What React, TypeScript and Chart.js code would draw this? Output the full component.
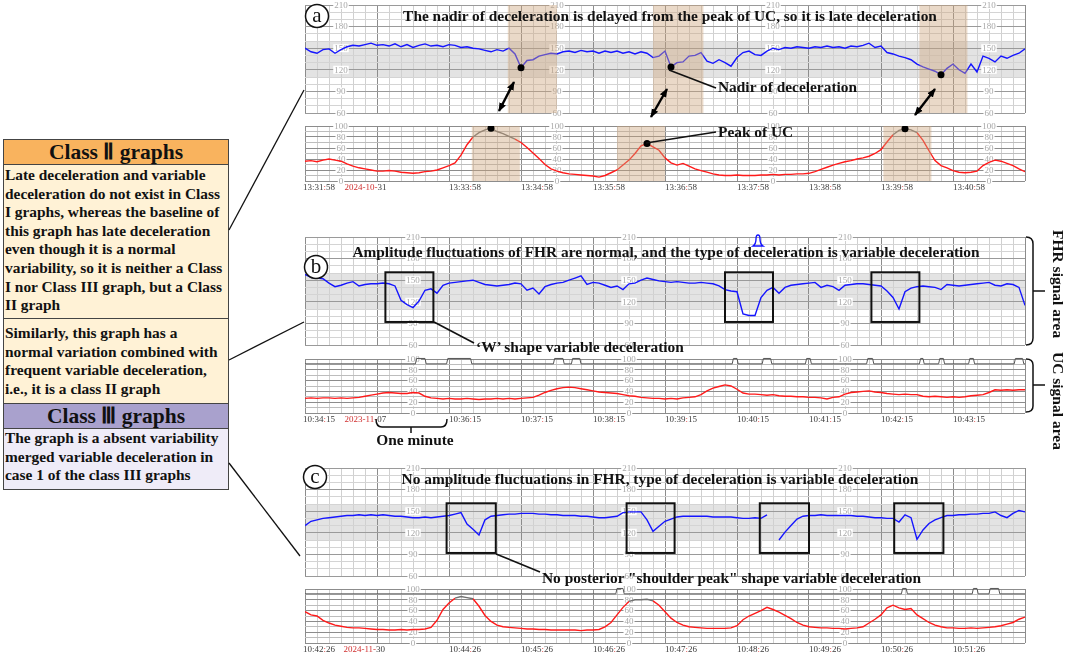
import React, { useEffect, useRef } from "react";
import { Chart, registerables } from "chart.js";
Chart.register(...registerables);

const STEP = 5; // seconds between samples

// ---------- Panel a (late deceleration) ----------
const fhrA = [150,145,143,148,149,143,148,152,154,153, 155,157,154,155,153,156,152,155,151,154, 156,153,154,152,155,154,151,152,150,149, 147,145,148,146,150,142,123,133,134,139, 141,143,142,145,146,144,147,145,146,143, 146,144,146,143,145,142,145,143,137,139, 146,124,130,131,139,140,144,132,129,134, 130,125,137,144,146,141,140,146,150,148, 151,150,152,151,150,152,151,153,151,152, 150,153,152,154,157,151,153,144,142,139, 137,134,128,124,121,118,113,122,128,120, 115,128,117,139,136,131,139,136,140,143, 149];
const ucA = [36,37,35,38,40,38,36,31,27,24, 22,20,18,18,19,18,16,15,14,15, 17,18,20,24,28,33,47,66,80,88, 93,96,90,86,81,76,70,61,51,41, 30,22,18,15,13,12,11,10,9,7, 10,15,20,29,38,50,64,68,62,56, 42,33,29,32,27,22,19,16,13,11, 10,10,11,10,10,10,11,11,12,11, 12,12,13,13,14,17,21,25,29,32, 35,37,40,42,45,50,57,71,84,92, 95,93,88,74,55,37,28,24,19,16, 15,16,18,28,34,38,36,32,28,22, 17];
const nadirTimesA = [180, 305, 530];
const nadirValuesA = [123, 124, 113];
const peakTimesA = [155, 285, 500];
const peakValuesA = [96, 68, 95];
const fhrShadeStartsA = [169, 290, 512];
const fhrShadeEndsA = [210, 332, 552];
const ucShadeStartsA = [139, 260, 482];
const ucShadeEndsA = [179, 300, 522];
const tickTimesA = [0, 120, 180, 240, 300, 360, 420, 480, 540];
const tickLabelsA = ["13:31:58","13:33:58","13:34:58","13:35:58","13:36:58","13:37:58","13:38:58","13:39:58","13:40:58"];
const dateA = "2024-10-31";
const valueLabelTimesA = [30, 210, 390, 570];

// ---------- Panel b (variable deceleration, normal variability) ----------
const fhrB = [158,154,153,152,146,141,143,146,148,142, 144,145,145,146,145,142,122,116,112,121, 136,138,132,143,146,147,148,149,150,147, 144,143,142,143,144,146,145,136,139,131, 141,144,146,147,150,153,156,144,147,146, 143,140,142,137,145,146,150,153,151,149, 148,147,148,147,146,146,147,146,145,142, 137,135,134,103,101,101,126,136,140,132, 140,143,144,145,146,147,140,143,141,136, 143,144,145,145,144,143,142,135,126,110, 134,139,141,142,141,140,137,144,143,142, 143,144,145,146,147,143,142,145,144,140, 115];
const ucB = [27,28,27,28,28,27,28,27,28,29, 31,33,35,37,38,37,36,36,38,37, 31,28,27,26,27,26,26,27,26,25, 26,26,27,26,27,26,27,28,29,33, 38,42,45,47,48,47,45,43,41,39, 38,37,36,34,32,31,29,28,27,27, 26,27,26,28,29,30,34,41,46,49, 52,50,44,37,35,35,34,33,34,32, 31,31,30,30,29,29,28,26,29,30, 35,38,39,40,41,39,38,36,35,34, 35,34,34,31,30,31,30,29,30,29, 30,32,33,34,38,43,42,43,42,43, 43];
const markerStartsB = [93, 119, 208, 223, 357, 382, 418, 469, 513, 529, 554, 592];
const markerEndsB = [100, 138, 215, 229, 360, 388, 421, 473, 515, 532, 557, 598];
const boxStartsB = [67, 350, 472];
const boxEndsB = [107, 390, 512];
const tickTimesB = [0, 120, 180, 240, 300, 360, 420, 480, 540];
const tickLabelsB = ["10:34:15","10:36:15","10:37:15","10:38:15","10:39:15","10:40:15","10:41:15","10:42:15","10:43:15"];
const dateB = "2023-11-07";
const valueLabelTimesBC = [90, 270, 450];

// ---------- Panel c (absent variability) ----------
const fhrC = [130,136,138,140,141,142,143,144,144,145, 144,145,144,145,144,143,143,142,141,141, 142,141,142,143,144,146,148,132,125,117, 138,143,144,145,146,146,147,147,147,146, 146,145,145,144,144,144,143,143,142,141, 141,142,143,148,149,149,149,138,122,129, 136,139,142,143,143,143,143,143,142,142, 142,142,141,140,140,141,140,145,null,110, 121,130,139,143,144,144,145,144,144,144, 144,144,143,143,142,141,141,140,140,135, 145,141,111,124,133,138,141,144,144,145, 145,146,146,147,147,149,144,141,147,151, 149];
const ucC = [58,52,50,42,37,33,31,29,28,28, 27,26,25,25,24,24,25,24,25,25, 26,29,42,62,74,83,86,84,82,68, 51,40,33,30,29,28,27,26,26,25, 25,24,24,24,24,24,23,24,24,25, 30,38,52,66,77,80,80,81,78,70, 58,46,38,33,30,29,28,27,27,27, 27,28,32,43,50,55,60,66,62,57, 51,45,38,33,30,29,28,28,27,27, 26,27,28,30,37,44,52,65,70,65, 62,64,52,45,38,33,30,28,28,27, 27,28,27,28,29,30,32,35,38,44, 48];
const markerStartsC = [260, 498, 557, 571];
const markerEndsC = [265, 501, 560, 578];
const boxStartsC = [118, 268, 379, 491];
const boxEndsC = [159, 308, 420, 532];
const tickTimesC = [0, 120, 180, 240, 300, 360, 420, 480, 540];
const tickLabelsC = ["10:42:26","10:44:26","10:45:26","10:46:26","10:47:26","10:48:26","10:49:26","10:50:26","10:51:26"];
const dateC = "2024-11-30";

const fhrTickValues = [210, 180, 150, 120, 90, 60];
const ucTickValues = [100, 80, 60, 40, 20, 0];
const normalBand = [110, 160];
const boxRange = [92, 161];

// ---------- layout ----------
const SERIF = '"Liberation Serif","Times New Roman",serif';
const AREA_L = 305;
const AREA_W = 720;
const PAD = 4;
const TITLE_SIZE = 15.4;

type Cfg = {
  band?: number[];
  valueLabels: number[];
  labelTimes: number[];
  shades?: number[][];
  boxes?: number[][];
  ticks?: { times: number[]; labels: string[]; date: string; dateTime: number };
};

const toXY = (arr: (number | null)[]) => arr.map((v, i) => ({ x: i * STEP, y: v }));
const zipXY = (xs: number[], ys: number[]) => xs.map((x, i) => ({ x, y: ys[i] }));
const pairs = (a: number[], b: number[]) => a.map((s, i) => [s, b[i]]);
function markerTrace(starts: number[], ends: number[]) {
  const pts: { x: number; y: number }[] = [{ x: 0, y: 91 }];
  starts.forEach((s, i) => {
    pts.push({ x: s - 1, y: 91 }, { x: s, y: 101 }, { x: ends[i], y: 101 }, { x: ends[i] + 1, y: 91 });
  });
  pts.push({ x: 600, y: 91 });
  return pts;
}

function makePlugin(cfg: Cfg) {
  return {
    id: "ctg",
    beforeDraw(chart: any) {
      if (!cfg.band) return;
      const { ctx, chartArea: a, scales } = chart;
      const y1 = scales.y.getPixelForValue(cfg.band[1]);
      const y0 = scales.y.getPixelForValue(cfg.band[0]);
      ctx.save();
      ctx.fillStyle = "rgba(200,200,200,0.5)";
      ctx.fillRect(a.left, y1, a.right - a.left, y0 - y1);
      ctx.restore();
    },
    beforeDatasetsDraw(chart: any) {
      const { ctx, scales } = chart;
      ctx.save();
      ctx.font = `9px ${SERIF}`;
      ctx.textAlign = "center";
      ctx.textBaseline = "middle";
      cfg.labelTimes.forEach((t) => {
        const x = scales.x.getPixelForValue(t);
        cfg.valueLabels.forEach((v) => {
          const y = scales.y.getPixelForValue(v);
          const txt = String(v);
          const w = ctx.measureText(txt).width;
          ctx.fillStyle = "#fff";
          ctx.fillRect(x - w / 2 - 1, y - 4, w + 2, 8);
          ctx.fillStyle = "#a8a8a8";
          ctx.fillText(txt, x, y + 0.5);
        });
      });
      ctx.restore();
    },
    afterDatasetDraw(chart: any, args: any) {
      if (args.index !== 1) return;
      const { ctx, chartArea: a, scales } = chart;
      ctx.save();
      (cfg.shades || []).forEach(([s, e]) => {
        const x0 = scales.x.getPixelForValue(s);
        const x1 = scales.x.getPixelForValue(e);
        ctx.fillStyle = "rgba(205,165,125,0.42)";
        ctx.fillRect(x0, a.top, x1 - x0, a.bottom - a.top);
      });
      (cfg.boxes || []).forEach(([s, e, v0, v1]) => {
        const x0 = scales.x.getPixelForValue(s);
        const x1 = scales.x.getPixelForValue(e);
        const y0 = scales.y.getPixelForValue(v1);
        const y1 = scales.y.getPixelForValue(v0);
        ctx.strokeStyle = "#111";
        ctx.lineWidth = 2;
        ctx.strokeRect(x0, y0, x1 - x0, y1 - y0);
      });
      ctx.restore();
    },
    afterDraw(chart: any) {
      if (!cfg.ticks) return;
      const { ctx, chartArea: a, scales } = chart;
      const tk = cfg.ticks;
      const y = a.bottom + 7;
      ctx.save();
      ctx.font = `9px ${SERIF}`;
      ctx.textAlign = "left";
      ctx.textBaseline = "middle";
      tk.times.forEach((t, i) => {
        let x = scales.x.getPixelForValue(t);
        if (i === 0) x -= 2;
        const lab = tk.labels[i];
        const k = lab.lastIndexOf(":");
        const parts: [string, string][] = [
          [lab.slice(0, k), "#3a3a3a"],
          [":", "#e02020"],
          [lab.slice(k + 1), "#3a3a3a"],
        ];
        parts.forEach(([s, c]) => {
          ctx.fillStyle = c;
          ctx.fillText(s, x, y);
          x += ctx.measureText(s).width;
        });
      });
      let x = scales.x.getPixelForValue(tk.dateTime);
      const d1 = tk.date.slice(0, 8);
      const d2 = tk.date.slice(8);
      ctx.fillStyle = "#d03030";
      ctx.fillText(d1, x, y);
      x += ctx.measureText(d1).width;
      ctx.fillStyle = "#3a3a3a";
      ctx.fillText(d2, x, y);
      ctx.restore();
    },
  };
}

type ChartProps = {
  top: number;
  areaH: number;
  padB: number;
  kind: "fhr" | "uc";
  cfg: Cfg;
  datasets: any[];
};

function CtgChart(p: ChartProps) {
  const ref = useRef<HTMLCanvasElement>(null);
  useEffect(() => {
    const isF = p.kind === "fhr";
    const chart = new Chart(ref.current as HTMLCanvasElement, {
      type: "line",
      data: { datasets: p.datasets },
      options: {
        animation: false,
        responsive: false,
        maintainAspectRatio: false,
        devicePixelRatio: 1,
        layout: { padding: { left: PAD, right: PAD, top: PAD, bottom: p.padB } },
        plugins: { legend: { display: false }, tooltip: { enabled: false } },
        elements: { point: { radius: 0 }, line: { tension: 0 } },
        scales: {
          x: {
            type: "linear",
            min: 0,
            max: 600,
            ticks: { display: false, stepSize: 10, autoSkip: false },
            grid: {
              drawTicks: false,
              lineWidth: 1,
              color: (c: any) => (c.tick && c.tick.value % 60 === 0 ? "#8c8c8c" : "#d0d0d0"),
            },
            border: { display: false },
          },
          y: {
            min: isF ? 60 : 0,
            max: isF ? 210 : 100,
            ticks: { display: false, stepSize: 10, autoSkip: false },
            grid: {
              drawTicks: false,
              lineWidth: 1,
              color: (c: any) => {
                const v = c.tick ? c.tick.value : 0;
                if (isF) return v % 30 === 0 ? "#9a9a9a" : "#d4d4d4";
                return v % 20 === 0 ? "#8c8c8c" : "#bdbdbd";
              },
            },
            border: { display: false },
          },
        },
      } as any,
      plugins: [makePlugin(p.cfg)],
    });
    return () => chart.destroy();
  }, []);
  const w = AREA_W + 2 * PAD;
  const h = p.areaH + PAD + p.padB;
  return (
    <canvas
      ref={ref}
      width={w}
      height={h}
      style={{ position: "absolute", left: AREA_L - PAD, top: p.top - PAD, width: w, height: h }}
    />
  );
}

const dotsDs = (pts: { x: number; y: number }[]) => ({
  data: pts,
  showLine: false,
  pointRadius: pts.length ? 3.5 : 0,
  pointBackgroundColor: "#000",
  pointBorderWidth: 0,
  borderColor: "#000",
});
const fhrDs = (arr: (number | null)[]) => ({
  data: toXY(arr),
  borderColor: "#1515ff",
  borderWidth: 1.4,
  pointRadius: 0,
  spanGaps: false,
});
const ucDs = (arr: number[]) => ({
  data: toXY(arr),
  borderColor: "#ff1a1a",
  borderWidth: 1.4,
  pointRadius: 0,
  segment: {
    borderColor: (c: any) => (c.p0.parsed.y >= 76 && c.p1.parsed.y >= 76 ? "#707070" : "#ff1a1a"),
  },
});
const markerDs = (s: number[], e: number[]) => ({
  data: markerTrace(s, e),
  borderColor: "#555",
  borderWidth: 1,
  pointRadius: 0,
  clip: false,
});

const textBase: React.CSSProperties = {
  position: "absolute",
  fontFamily: SERIF,
  fontWeight: "bold",
  color: "#111",
  whiteSpace: "nowrap",
  lineHeight: "20px",
};

function Label(props: { x: number; y: number; size: number; center?: boolean; children: React.ReactNode }) {
  return (
    <div
      style={{
        ...textBase,
        left: props.x,
        top: props.y - 10,
        fontSize: props.size,
        transform: props.center ? "translateX(-50%)" : undefined,
      }}
    >
      {props.children}
    </div>
  );
}

const classIIText1 = [
  "Late deceleration and variable",
  "deceleration do not exist in Class",
  "I graphs, whereas the baseline of",
  "this graph has late deceleration",
  "even though it is a normal",
  "variability, so it is neither a Class",
  "I nor Class III graph, but a Class",
  "II graph",
];
const classIIText2 = [
  "Similarly, this graph has a",
  "normal variation combined with",
  "frequent variable deceleration,",
  "i.e., it is a class II graph",
];
const classIIIText = [
  "The graph is a absent variability",
  "merged variable deceleration in",
  "case 1 of the class III graphs",
];

function Box(props: { top: number; h: number; bg: string; children: React.ReactNode; padTop?: number; header?: boolean }) {
  return (
    <div
      style={{
        position: "absolute",
        left: 3,
        top: props.top,
        width: 226,
        height: props.h,
        boxSizing: "border-box",
        background: props.bg,
        border: "1px solid #444",
        fontFamily: SERIF,
        fontWeight: "bold",
        color: "#111",
        paddingTop: props.padTop ?? 0,
        paddingLeft: props.header ? 0 : 1,
        textAlign: props.header ? "center" : "left",
        whiteSpace: "nowrap",
        overflow: "hidden",
      }}
    >
      {props.children}
    </div>
  );
}

export default function App() {
  const cfgFA: Cfg = {
    band: normalBand,
    valueLabels: fhrTickValues,
    labelTimes: valueLabelTimesA,
    shades: pairs(fhrShadeStartsA, fhrShadeEndsA),
  };
  const cfgUA: Cfg = {
    valueLabels: ucTickValues,
    labelTimes: valueLabelTimesA,
    shades: pairs(ucShadeStartsA, ucShadeEndsA),
    ticks: { times: tickTimesA, labels: tickLabelsA, date: dateA, dateTime: 33 },
  };
  const cfgFB: Cfg = {
    band: normalBand,
    valueLabels: fhrTickValues,
    labelTimes: valueLabelTimesBC,
    boxes: boxStartsB.map((s, i) => [s, boxEndsB[i], boxRange[0], boxRange[1]]),
  };
  const cfgUB: Cfg = {
    valueLabels: ucTickValues,
    labelTimes: valueLabelTimesBC,
    ticks: { times: tickTimesB, labels: tickLabelsB, date: dateB, dateTime: 33 },
  };
  const cfgFC: Cfg = {
    band: normalBand,
    valueLabels: fhrTickValues,
    labelTimes: valueLabelTimesBC,
    boxes: boxStartsC.map((s, i) => [s, boxEndsC[i], boxRange[0], boxRange[1]]),
  };
  const cfgUC: Cfg = {
    valueLabels: ucTickValues,
    labelTimes: valueLabelTimesBC,
    ticks: { times: tickTimesC, labels: tickLabelsC, date: dateC, dateTime: 32 },
  };

  const lineH = 18.6;
  const bodySize = 15.4;

  return (
    <div style={{ position: "absolute", left: 0, top: 0, width: 1065, height: 655, background: "#fff", overflow: "hidden" }}>
      <CtgChart top={5} areaH={108} padB={PAD} kind="fhr" cfg={cfgFA}
        datasets={[dotsDs(zipXY(nadirTimesA, nadirValuesA)), fhrDs(fhrA)]} />
      <CtgChart top={126} areaH={55} padB={16} kind="uc" cfg={cfgUA}
        datasets={[dotsDs(zipXY(peakTimesA, peakValuesA)), ucDs(ucA)]} />
      <CtgChart top={237} areaH={108} padB={PAD} kind="fhr" cfg={cfgFB}
        datasets={[dotsDs([]), fhrDs(fhrB)]} />
      <CtgChart top={359} areaH={54} padB={16} kind="uc" cfg={cfgUB}
        datasets={[markerDs(markerStartsB, markerEndsB), ucDs(ucB)]} />
      <CtgChart top={468} areaH={108} padB={PAD} kind="fhr" cfg={cfgFC}
        datasets={[dotsDs([]), fhrDs(fhrC)]} />
      <CtgChart top={589} areaH={54} padB={16} kind="uc" cfg={cfgUC}
        datasets={[markerDs(markerStartsC, markerEndsC), ucDs(ucC)]} />

      {/* left explanation boxes */}
      <Box top={139} h={26} bg="#F9B35E" header>
        <span style={{ fontSize: 21.5, lineHeight: "24px" }}>Class Ⅱ graphs</span>
      </Box>
      <Box top={164} h={155} bg="#FFF2D6" padTop={1}>
        {classIIText1.map((t) => (
          <div key={t} style={{ fontSize: bodySize, lineHeight: lineH + "px" }}>{t}</div>
        ))}
      </Box>
      <Box top={318} h={86} bg="#FFF2D6" padTop={5}>
        {classIIText2.map((t) => (
          <div key={t} style={{ fontSize: bodySize, lineHeight: lineH + "px" }}>{t}</div>
        ))}
      </Box>
      <Box top={403} h={26} bg="#A9A1CD" header>
        <span style={{ fontSize: 21.5, lineHeight: "24px" }}>Class Ⅲ graphs</span>
      </Box>
      <Box top={428} h={62} bg="#EFECF8" padTop={0}>
        {classIIIText.map((t) => (
          <div key={t} style={{ fontSize: bodySize, lineHeight: lineH + "px" }}>{t}</div>
        ))}
      </Box>

      {/* overlay graphics */}
      <svg width={1065} height={655} style={{ position: "absolute", left: 0, top: 0 }}>
        <defs>
          <marker id="ah" viewBox="0 0 10 10" refX="9" refY="5" markerWidth="9" markerHeight="9"
            markerUnits="userSpaceOnUse" orient="auto-start-reverse">
            <path d="M0,1 L10,5 L0,9 z" fill="#000" />
          </marker>
        </defs>
        <g stroke="#111" strokeWidth={1.3} fill="none">
          <line x1={229} y1={230} x2={304} y2={90} />
          <line x1={229} y1={360} x2={304} y2={322} />
          <line x1={229} y1={463} x2={300} y2={556} />
          <line x1={669} y1={70} x2={716} y2={88} strokeWidth={1.6} />
          <line x1={646} y1={143} x2={716} y2={132} strokeWidth={1.6} />
          <line x1={434} y1={322} x2={474} y2={343} strokeWidth={1.6} />
          <line x1={496} y1={554} x2={540} y2={572} strokeWidth={1.6} />
        </g>
        <g stroke="#000" strokeWidth={2.4}>
          <line x1={499} y1={111} x2={514} y2={82} markerStart="url(#ah)" markerEnd="url(#ah)" />
          <line x1={651} y1={117} x2={667} y2={89} markerStart="url(#ah)" markerEnd="url(#ah)" />
          <line x1={915} y1={115} x2={935} y2={89} markerStart="url(#ah)" markerEnd="url(#ah)" />
        </g>
        <g stroke="#111" strokeWidth={1.5} fill="none">
          <path d="M1026,237 Q1033,237 1033,244 L1033,338 Q1033,345 1026,345" />
          <path d="M1033,291 L1045,291" />
          <path d="M1026,359 Q1033,359 1033,365 L1033,406 Q1033,412 1026,412" />
          <path d="M1033,385 L1045,385" />
          <path d="M376,419 Q376,427 382,427 L441,427 Q447,427 447,419" />
          <path d="M411,427 L411,433" />
        </g>
        <g stroke="#1515ff" strokeWidth={1.4} fill="none">
          <path d="M753,246 L763,246 Q760,244 760,239 Q760,235 758,235 Q756,235 756,239 Q756,244 753,246 Z" />
        </g>
        {[
          [317, 16, "a"],
          [316, 267, "b"],
          [315, 477, "c"],
        ].map(([cx, cy, t]) => (
          <g key={String(t)}>
            <circle cx={cx as number} cy={cy as number} r={11.5} fill="#fff" stroke="#111" strokeWidth={1.5} />
            <text x={cx as number} y={(cy as number) + 6} textAnchor="middle" fontFamily={SERIF} fontSize={21} fill="#111">
              {t}
            </text>
          </g>
        ))}
      </svg>

      {/* titles & annotations */}
      <Label x={670} y={16} size={TITLE_SIZE} center>
        The nadir of deceleration is delayed from the peak of UC, so it is late deceleration
      </Label>
      <Label x={666} y={252} size={TITLE_SIZE} center>
        Amplitude fluctuations of FHR are normal, and the type of deceleration is variable deceleration
      </Label>
      <Label x={660} y={479} size={TITLE_SIZE} center>
        No amplitude fluctuations in FHR, type of deceleration is variable deceleration
      </Label>
      <Label x={718} y={87} size={TITLE_SIZE}>Nadir of deceleration</Label>
      <Label x={718} y={132} size={TITLE_SIZE}>Peak of UC</Label>
      <Label x={476} y={347} size={TITLE_SIZE}>‘W’ shape variable deceleration</Label>
      <Label x={415} y={440} size={TITLE_SIZE} center>One minute</Label>
      <Label x={542} y={578} size={TITLE_SIZE}>No posterior "shoulder peak" shape variable deceleration</Label>

      <div style={{ ...textBase, fontSize: 15.5, left: 1049, top: 230, writingMode: "vertical-rl", lineHeight: "18px" }}>
        FHR signal area
      </div>
      <div style={{ ...textBase, fontSize: 15.5, left: 1049, top: 352, writingMode: "vertical-rl", lineHeight: "18px" }}>
        UC signal area
      </div>
    </div>
  );
}
